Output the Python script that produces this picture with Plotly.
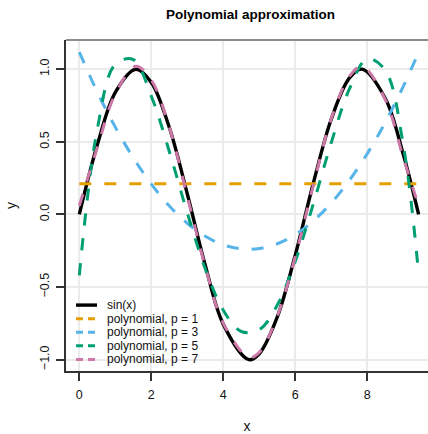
import plotly.graph_objects as go

# sample positions along x (0 .. 3*pi)
x_sin = [0.0, 0.5, 1.0, 1.571, 2.0, 2.5, 3.0, 3.5, 4.0, 4.712, 5.0, 5.5,
         6.0, 6.5, 7.0, 7.5, 7.854, 8.5, 9.0, 9.425]
y_sin = [0.0, 0.479, 0.841, 1.0, 0.909, 0.598, 0.141, -0.351, -0.757, -1.0,
         -0.959, -0.706, -0.279, 0.215, 0.657, 0.938, 1.0, 0.798, 0.412, 0.0]

# degree-6 fit (p = 7), sampled on the same grid as sin(x)
y_p7 = [0.06, 0.46, 0.83, 1.02, 0.925, 0.60, 0.125, -0.36, -0.75, -0.985,
        -0.95, -0.70, -0.29, 0.20, 0.66, 0.95, 1.02, 0.79, 0.39, 0.06]

x_fit = [0.0, 0.5, 1.0, 1.5, 2.0, 2.5, 3.0, 3.5, 4.0, 4.5, 5.0, 5.5,
         6.0, 6.5, 7.0, 7.5, 8.0, 8.5, 9.0, 9.425]
y_p3 = [1.118, 0.842, 0.601, 0.390, 0.209, 0.058, -0.061, -0.150, -0.209,
        -0.237, -0.235, -0.202, -0.139, -0.045, 0.079, 0.234, 0.419, 0.635,
        0.882, 1.116]
y_p5 = [-0.419, 0.588, 1.034, 1.066, 0.814, 0.433, 0.010, -0.375, -0.660,
        -0.806, -0.793, -0.624, -0.322, 0.073, 0.495, 0.862, 1.072, 0.992,
        0.476, -0.408]

x_p1 = [0.0, 9.425]
y_p1 = [0.212, 0.212]

x_ticks = [0, 2, 4, 6, 8]
y_ticks = [-1.0, -0.5, 0.0, 0.5, 1.0]
y_tick_text = ["\u22121.0", "\u22120.5", "0.0", "0.5", "1.0"]

legend_labels = ["sin(x)", "polynomial, p = 1", "polynomial, p = 3",
                 "polynomial, p = 5", "polynomial, p = 7"]
colors = ["#000000", "#E69F00", "#56B4E9", "#009E73", "#CC79A7"]

DASH = "12px,13px"
FONT = "Liberation Sans, Arial, sans-serif"

fig = go.Figure()
fig.add_trace(go.Scatter(x=x_sin, y=y_sin, mode="lines", name=legend_labels[0],
                         line=dict(color=colors[0], width=3.4, shape="spline"),
                         showlegend=False))
fig.add_trace(go.Scatter(x=x_p1, y=y_p1, mode="lines", name=legend_labels[1],
                         line=dict(color=colors[1], width=3, dash=DASH),
                         showlegend=False))
fig.add_trace(go.Scatter(x=x_fit, y=y_p3, mode="lines", name=legend_labels[2],
                         line=dict(color=colors[2], width=3, dash=DASH, shape="spline"),
                         showlegend=False))
fig.add_trace(go.Scatter(x=x_fit, y=y_p5, mode="lines", name=legend_labels[3],
                         line=dict(color=colors[3], width=3, dash=DASH, shape="spline"),
                         showlegend=False))
fig.add_trace(go.Scatter(x=x_sin, y=y_p7, mode="lines", name=legend_labels[4],
                         line=dict(color=colors[4], width=3, dash=DASH, shape="spline"),
                         showlegend=False))

# plot area geometry (pixels)
W, H = 428, 434
ML, MR, MT, MB = 66, 0, 40, 60
PW, PH = W - ML - MR, H - MT - MB


def px_to_paper(px, py):
    return (px - ML) / PW, (H - MB - py) / PH


# hand-built legend in the lower-left corner
shapes = []
annotations = []
for i, (lab, col) in enumerate(zip(legend_labels, colors)):
    py = 307.5 + i * 13.7
    x0, yy = px_to_paper(76, py)
    x1, _ = px_to_paper(97, py)
    line = dict(color=col, width=3 if i else 3.4)
    if i:
        line["dash"] = "7px,5px"
    shapes.append(dict(type="line", xref="paper", yref="paper",
                       x0=x0, x1=x1, y0=yy, y1=yy, line=line))
    tx, _ = px_to_paper(105, py)
    annotations.append(dict(xref="paper", yref="paper", x=tx, y=yy,
                            text=lab, showarrow=False, xanchor="left",
                            yanchor="middle", font=dict(size=12, color="#111")))

# grey frame along the top edge
shapes.append(dict(type="line", xref="paper", yref="paper", x0=0, x1=1, y0=1, y1=1,
                   line=dict(color="#8c8c8c", width=2)))

fig.update_layout(
    width=W, height=H,
    margin=dict(l=ML, r=MR, t=MT, b=MB),
    paper_bgcolor="white", plot_bgcolor="white",
    font=dict(family=FONT, size=12, color="#111"),
    title=dict(text="<b>Polynomial approximation</b>", x=250.5 / W, xref="container",
               xanchor="center", y=1 - 14 / H, yref="container", yanchor="middle",
               font=dict(size=13.5, color="#000")),
    shapes=shapes,
    annotations=annotations,
    showlegend=False,
)

fig.update_xaxes(
    range=[-0.37, 9.686], tickvals=x_ticks, ticks="outside", ticklen=8,
    tickwidth=1.5, tickcolor="#333", showline=True, linecolor="#333", linewidth=2,
    showgrid=True, gridcolor="#ebebeb", gridwidth=1.5, zeroline=False,
    ticklabelstandoff=3,
    title=dict(text="x", standoff=22), tickfont=dict(size=12.5),
)
fig.update_yaxes(
    range=[-1.078, 1.201], tickvals=y_ticks, ticktext=y_tick_text, tickangle=-90,
    ticks="outside", ticklen=8, tickwidth=1.5, tickcolor="#333", showline=True,
    linecolor="#333", linewidth=2, showgrid=True, gridcolor="#ebebeb", gridwidth=1.5,
    ticklabelstandoff=2,
    zeroline=False, title=dict(text="y", standoff=18), tickfont=dict(size=12.5),
)

fig.write_html("out.html")
